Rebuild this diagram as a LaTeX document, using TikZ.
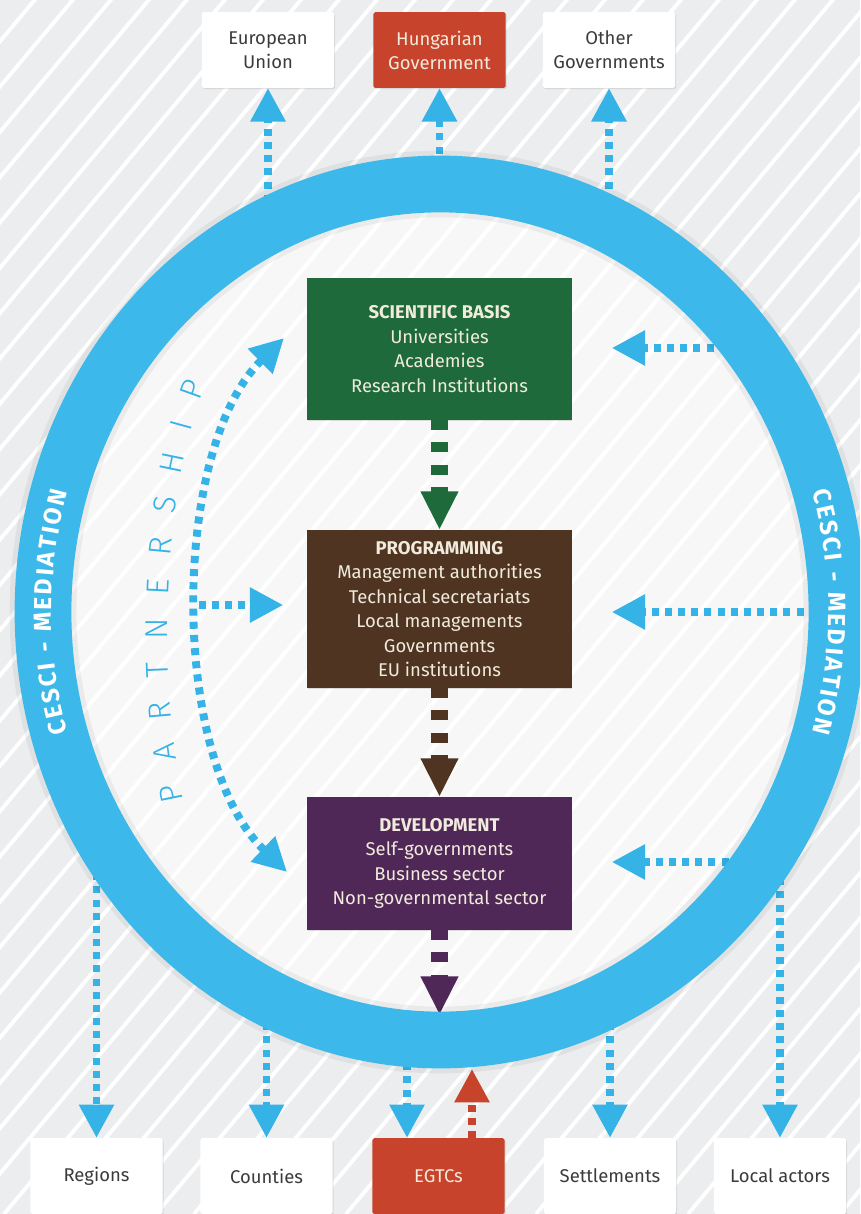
\documentclass[tikz,border=0pt]{standalone}
\usepackage{fontspec}
\setmainfont{Fira Sans}
\newfontfamily\thinfont{Fira Sans Light}
\usepackage{tikz}
\usetikzlibrary{arrows.meta,decorations.text,shadows}

\definecolor{cesciblue}{HTML}{3CB9EA}
\definecolor{arrblue}{HTML}{35B2E6}
\definecolor{hunred}{HTML}{C8432B}
\definecolor{scigreen}{HTML}{1E6A3A}
\definecolor{progbrown}{HTML}{4E3421}
\definecolor{devpurple}{HTML}{502857}
\definecolor{bggray}{HTML}{ECEDEE}
\definecolor{boxtext}{HTML}{3B3B3B}
\definecolor{lighttext}{HTML}{F1EBDD}

\newcommand\medfont{\bfseries\fontsize{14}{14}\selectfont}
\newcommand\partfont{\thinfont\fontsize{18}{18}\selectfont}

\tikzset{
  actor/.style={fill=white, text=boxtext, minimum width=75.4pt, minimum height=43pt,
    align=center, font=\fontsize{10.5}{13.6}\selectfont, rounded corners=1pt,
    drop shadow={shadow xshift=0.5pt, shadow yshift=-0.8pt, opacity=0.2}},
  redactor/.style={actor, fill=hunred, text=lighttext},
  stage/.style={minimum width=150.3pt, text=lighttext, align=center,
    font=\fontsize{10.5}{13.9}\selectfont,
    drop shadow={shadow xshift=0.5pt, shadow yshift=-0.8pt, opacity=0.25}},
  dotarrow/.style={color=arrblue, line width=4.5pt, dash pattern=on 4pt off 3.5pt,
    -{Triangle[width=19pt,length=19pt]}},
  dotboth/.style={dotarrow, {Triangle[width=19pt,length=19pt]}-{Triangle[width=19pt,length=19pt]}},
  flow/.style={line width=10pt, dash pattern=on 5.7pt off 7pt,
    -{Triangle[width=20pt,length=22pt]}},
}

\begin{document}
\begin{tikzpicture}[x=0.02cm,y=0.02cm]
 \useasboundingbox (0,0) rectangle (860,-1214);
 \clip (0,0) rectangle (860,-1214);
 \fill[bggray] (0,0) rectangle (860,-1214);
 \foreach \i in {-1060,-1022,...,880}
   \draw[white, line width=2.2pt] (\i,-1214) -- ++(50:1600);
 \fill[white, opacity=0.6] (440,-612) ellipse[x radius=380, y radius=410];

  \draw (268,-50) node[actor] (eu) {European\\Union};
  \draw (439.5,-50) node[redactor] (hun) {Hungarian\\Government};
  \draw (609,-50) node[actor] (other) {Other\\Governments};

  \draw (96.5,-1176) node[actor] (reg) {Regions};
  \draw (266.5,-1176) node[actor] (cnt) {Counties};
  \draw (438.5,-1176) node[redactor] (egtc) {EGTCs};
  \draw (610,-1176) node[actor] (set) {Settlements};
  \draw (780,-1176) node[actor] (loc) {Local actors};

  \draw (439.5,-349) node[stage, fill=scigreen, minimum height=80.5pt] (sci)
    {\textbf{SCIENTIFIC BASIS}\\Universities\\Academies\\Research Institutions};
  \draw (439.5,-609) node[stage, fill=progbrown, minimum height=89.6pt] (prog)
    {\textbf{PROGRAMMING}\\Management authorities\\Technical secretariats\\Local managements\\Governments\\EU institutions};
  \draw (439.5,-863.5) node[stage, fill=devpurple, minimum height=75.4pt] (dev)
    {\textbf{DEVELOPMENT}\\Self-governments\\Business sector\\Non-governmental sector};

  \coordinate (reu) at (268,-215);
  \coordinate (rhun) at (439.5,-180);
  \coordinate (rother) at (609,-215);
  \coordinate (rreg) at (96.5,-860);
  \coordinate (rcnt) at (266.5,-1010);
  \coordinate (regtc) at (407,-1050);
  \coordinate (rred) at (472,-1069);
  \coordinate (rset) at (610,-1010);
  \coordinate (rloc) at (780,-865);
  \coordinate (rsci) at (740,-348);
  \coordinate (rprog) at (830,-612);
  \coordinate (rdev) at (755,-862);
  \coordinate (rbot) at (439.5,-1015);
  \coordinate (ptop) at (284,-338);
  \coordinate (pbot) at (287,-872);

     \path[dotarrow] (reu) edge (eu);
     \path[dotarrow] (rhun) edge (hun);
     \path[dotarrow] (rother) edge (other);
     \path[dotarrow] (rreg) edge (reg);
     \path[dotarrow] (rcnt) edge (cnt);
     \path[dotarrow] (regtc) edge (egtc.north -| regtc);
     \path[dotarrow, color=hunred] (egtc.north -| rred) edge (rred);
     \path[dotarrow] (rset) edge (set);
     \path[dotarrow] (rloc) edge (loc);
     \path[dotarrow, shorten >=22.7pt] (rsci) edge (sci.east |- rsci);
     \path[dotarrow, shorten >=22.7pt] (rprog) edge (prog.east |- rprog);
     \path[dotarrow, shorten >=22.7pt] (rdev) edge (dev.east |- rdev);

     \path[flow, color=scigreen] (sci) edge (prog);
     \path[flow, color=progbrown] (prog) edge (dev);
     \path[flow, color=devpurple] (dev) edge (rbot);

     \draw[dotboth] (ptop) .. controls (170,-450) and (170,-760) .. (pbot) coordinate[pos=0.5] (pmid);
     \path[dotarrow, shorten >=13.6pt] (pmid) edge (prog.west |- pmid);
     \path[decorate, decoration={text along path, text={|\partfont|P A R T N E R S H I P},
       text color=arrblue, text align={fit to path}}]
       (184,-800) .. controls (160,-690) and (158,-510) .. (206,-385);

 \draw[black, opacity=0.05, line width=38pt] (440,-612) ellipse[x radius=397, y radius=428];
 \draw[cesciblue, line width=32.3pt] (440,-612) ellipse[x radius=397, y radius=428];
     \path[decorate, decoration={text along path, text={|\medfont|CESCI - MEDIATION},
       text color=white, text align={fit to path}, raise=-4.9pt}]
       (59.6,-734.3) arc[start angle=196.6, end angle=163.4, x radius=397, y radius=428];
     \path[decorate, decoration={text along path, text={|\medfont|CESCI - MEDIATION},
       text color=white, text align={fit to path}, raise=-4.9pt}]
       (820.4,-489.7) arc[start angle=16.6, end angle=-16.6, x radius=397, y radius=428];
\end{tikzpicture}
\end{document}
